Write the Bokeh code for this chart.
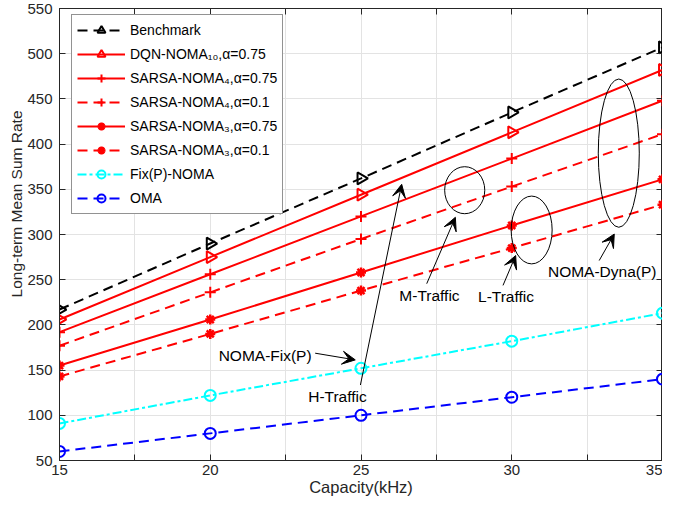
import math
from bokeh.plotting import figure
from bokeh.models import Range1d, LinearAxis, FixedTicker, Arrow, VeeHead, ColumnDataSource, Title
from bokeh.embed import file_html
from bokeh.resources import INLINE
from bokeh.core.properties import value

# ---------------- data ----------------
capacity = [15, 20, 25, 30, 35]
benchmark = [217, 290, 362, 435, 507]
dqn_noma10 = [206, 275, 344, 413, 482]
sarsa4_075 = [192, 256, 320, 384, 448]
sarsa4_01 = [177, 236, 295, 353, 411]
sarsa3_075 = [155, 206, 258, 310, 361]
sarsa3_01 = [143, 190, 238, 285, 333]
fixp_noma = [91, 122, 152, 182, 213]
oma = [60, 80, 100, 120, 140]

x_ticks = [15, 17.5, 20, 22.5, 25, 27.5, 30, 32.5, 35]
x_tick_labels = {17.5: "", 22.5: "", 27.5: "", 32.5: ""}
y_ticks = [50, 100, 150, 200, 250, 300, 350, 400, 450, 500, 550]

# annotation groups (ellipse centre x, y, width, height)
ell_x = [28.44, 30.66, 33.55]
ell_y = [349, 305, 390]
ell_w = [1.33, 1.36, 1.36]
ell_h = [52, 75, 164]

notes = ["H-Traffic", "M-Traffic", "L-Traffic", "NOMA-Dyna(P)", "NOMA-Fix(P)"]
note_x = [24.22, 27.27, 29.81, 33.0, 21.82]
note_y = [120.3, 232.7, 231.3, 258.8, 166.5]
arr_x0 = [24.98, 27.18, 29.71, 32.9, 23.48]
arr_y0 = [133.5, 245.6, 243.7, 271.2, 168.7]
arr_x1 = [26.35, 28.13, 30.13, 33.4, 24.81]
arr_y1 = [355.5, 319.0, 276.7, 300.5, 161.3]

FONT = "Liberation Sans"
TXT = "#262626"

p = figure(width=662, height=498, output_backend="svg", toolbar_location=None,
           x_range=Range1d(15, 35), y_range=Range1d(50, 550),
           min_border_left=59, min_border_right=0, min_border_top=8, min_border_bottom=38)
p.background_fill_color = "white"
p.border_fill_color = "white"
p.outline_line_color = TXT
p.outline_line_width = 1

xax = p.xaxis[0]
yax = p.yaxis[0]
xax.ticker = FixedTicker(ticks=x_ticks)
xax.major_label_overrides = x_tick_labels
yax.ticker = FixedTicker(ticks=y_ticks)

top = LinearAxis(ticker=FixedTicker(ticks=x_ticks),
                 major_label_overrides={t: "" for t in x_ticks},
                 major_label_standoff=0, major_label_text_font_size="1px")
right = LinearAxis(ticker=FixedTicker(ticks=y_ticks),
                   major_label_overrides={t: "" for t in y_ticks},
                   major_label_standoff=0, major_label_text_font_size="1px")
p.add_layout(top, "above")
p.add_layout(right, "right")

for ax in (xax, yax, top, right):
    ax.axis_line_color = TXT
    ax.major_tick_line_color = TXT
    ax.major_tick_in = 6
    ax.major_tick_out = 0
    ax.minor_tick_line_color = None
    ax.major_label_text_font = FONT
    ax.major_label_text_color = TXT
for ax in (xax, yax):
    ax.major_label_text_font_size = "15px"
    ax.axis_label_text_font = FONT
    ax.axis_label_text_font_style = "normal"
    ax.axis_label_text_color = TXT
xax.major_label_standoff = 4
yax.major_label_standoff = 7
xax.axis_label = "Capacity(kHz)"
xax.axis_label_text_font_size = "16.5px"
xax.axis_label_standoff = 0

p.add_layout(Title(text="Long-term Mean Sum Rate", align="right", offset=102,
                   text_font=FONT, text_font_size="15.5px", text_font_style="normal",
                   text_color=TXT, standoff=0), "left")

p.xgrid.ticker = FixedTicker(ticks=x_ticks)
p.ygrid.ticker = FixedTicker(ticks=y_ticks)
p.grid.grid_line_color = "#e3e3e3"
p.grid.grid_line_width = 1

# series
series = [
    (benchmark, "Benchmark", "black", "10 6", "triangle"),
    (dqn_noma10, "DQN-NOMA\u2081\u2080,\u03b1=0.75", "red", "solid", "triangle"),
    (sarsa4_075, "SARSA-NOMA\u2084,\u03b1=0.75", "red", "solid", "cross"),
    (sarsa4_01, "SARSA-NOMA\u2084,\u03b1=0.1", "red", "10 6", "cross"),
    (sarsa3_075, "SARSA-NOMA\u2083,\u03b1=0.75", "red", "solid", "asterisk"),
    (sarsa3_01, "SARSA-NOMA\u2083,\u03b1=0.1", "red", "10 6", "asterisk"),
    (fixp_noma, "Fix(P)-NOMA", "cyan", "9 3 3 3", "circle"),
    (oma, "OMA", "blue", "10 6", "circle"),
]
for ys, lab, col, dash, mk in series:
    p.line(capacity, ys, line_color=col, line_width=2, line_dash=dash, legend_label=lab)
    ang = -math.pi / 2 if mk == "triangle" else 0.0
    src = ColumnDataSource(dict(x=capacity, y=ys, ang=[ang] * len(capacity)))
    size = {"triangle": 12, "cross": 11, "asterisk": 10, "circle": 11}[mk]
    lw = 2.5 if mk == "asterisk" else 2
    p.scatter("x", "y", source=src, marker=mk, size=size, angle="ang",
              line_color=col, fill_color=None, line_width=lw, legend_label=lab)

# annotations
p.ellipse(ell_x, ell_y, width=ell_w, height=ell_h, fill_color=None,
          line_color="black", line_width=1)
for i in range(len(notes)):
    p.add_layout(Arrow(end=VeeHead(size=13, fill_color="black", line_color="black"),
                       x_start=arr_x0[i], y_start=arr_y0[i], x_end=arr_x1[i], y_end=arr_y1[i],
                       line_color="black", line_width=1))
p.text(note_x, note_y, text=notes, text_font=value(FONT), text_font_size="15.5px",
       text_align="center", text_baseline="middle", text_color="black")

# legend
lg = p.legend[0]
lg.location = (12, 246)
lg.margin = 0
lg.padding = 5
lg.spacing = 4
lg.label_height = 20
lg.glyph_height = 20
lg.glyph_width = 48
lg.label_standoff = 5
lg.label_text_font = FONT
lg.label_text_font_size = "14px"
lg.label_text_color = "black"
lg.border_line_color = TXT
lg.border_line_width = 1
lg.background_fill_color = "white"
lg.background_fill_alpha = 1

open("out.html", "w").write(file_html(p, INLINE))
